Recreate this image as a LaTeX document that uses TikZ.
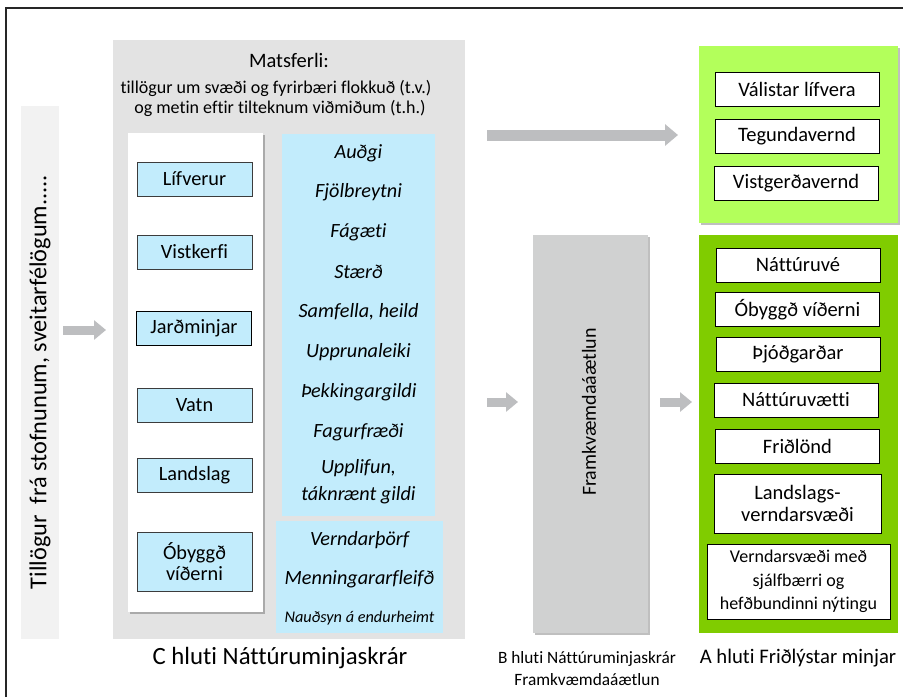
\documentclass[tikz,border=0pt]{standalone}
\usepackage{fontspec}
\setmainfont{Carlito}[Ligatures=NoCommon]
\usetikzlibrary{arrows.meta,shadows}
\definecolor{stripgray}{RGB}{242,242,242}
\definecolor{matsgray}{RGB}{227,227,227}
\definecolor{bgray}{RGB}{208,209,209}
\definecolor{critblue}{RGB}{194,236,252}
\definecolor{lightgreen}{RGB}{179,255,91}
\definecolor{darkgreen}{RGB}{128,204,0}
\definecolor{arrowgray}{RGB}{189,190,192}
\definecolor{boxedge}{RGB}{60,60,60}
\tikzset{
  panel/.style={anchor=north west, inner sep=0pt, outer sep=0pt},
  shad/.style={drop shadow={shadow xshift=1.5pt, shadow yshift=-2pt, opacity=0.25, fill=black}},
  catbox/.style={draw=boxedge, line width=0.8pt, fill=critblue, minimum width=115pt, minimum height=34pt, inner sep=2pt, align=center, font=\fontsize{20.3}{21}\selectfont},
  kbox/.style={draw=black, line width=0.8pt, fill=white, minimum width=164pt, minimum height=34pt, inner sep=2pt, align=center, font=\fontsize{20.5}{22}\selectfont},
  crit/.style={font=\fontsize{20.2}{27}\selectfont\itshape, align=center, inner sep=0pt},
  blockarrow/.style={draw=arrowgray, line width=11pt, -{Triangle[width=21pt,length=13pt]}},
  smallarrow/.style={draw=arrowgray, line width=9pt, -{Triangle[width=19pt,length=12pt]}},
  caption/.style={align=center, inner sep=0pt}
}
\begin{document}
\begin{tikzpicture}[x=1pt,y=-1pt]
\useasboundingbox (0,0) rectangle (903,697);
\fill[white] (0,0) rectangle (903,697);
% frame
\coordinate (fbl) at (6,697);
\coordinate (ftl) at (6,8);
\coordinate (ftr) at (903,8);
\draw[line width=1.5pt, black!85] (fbl) -- (ftl) -- (ftr);

% left strip
\node[panel, fill=stripgray, minimum width=38pt, minimum height=533pt] (strip) at (21,106) {};
\node[rotate=90, font=\fontsize{24.3}{26}\selectfont, inner sep=0pt] (stext) at (40,382) {Tillögur~ frá stofnunum, sveitarfélögum.....};

% main gray panel
\node[panel, fill=matsgray, minimum width=352pt, minimum height=599pt] (mats) at (113,40) {};
\node[anchor=base, inner sep=0pt, font=\fontsize{20.5}{22}\selectfont] (title1) at (289,67) {Matsferli:};
\node[anchor=base, inner sep=0pt, font=\fontsize{18}{21}\selectfont] (title2) at (276,93) {tillögur um svæði og fyrirbæri flokkuð (t.v.)};
\node[anchor=base, inner sep=0pt, font=\fontsize{18}{21}\selectfont] (title3) at (280,113) {og metin eftir tilteknum viðmiðum (t.h.)};

% white column
\node[panel, fill=white, minimum width=135pt, minimum height=479pt, shad] (col) at (128,133) {};
\node[catbox] (lif) at (194.5,179) {Lífverur};
\node[catbox] (vist) at (194.5,252) {Vistkerfi};
\node[catbox, draw=black] (jard) at (194,328.5) {Jarðminjar};
\node[catbox] (vatn) at (194.5,405.5) {Vatn};
\node[catbox] (land) at (194.5,475.5) {Landslag};
\node[catbox, minimum height=59pt] (oby) at (194.5,561.5) {Óbyggð\\víðerni};

% criteria
\node[panel, fill=critblue, minimum width=153pt, minimum height=382pt] (crit1) at (282,134) {};
\node[crit] (c1) at (358.5,153) {Auðgi};
\node[crit] (c2) at (358.5,192) {Fjölbreytni};
\node[crit] (c3) at (358.5,232) {Fágæti};
\node[crit] (c4) at (358.5,272) {Stærð};
\node[crit] (c5) at (358.5,312) {Samfella, heild};
\node[crit] (c6) at (358.5,352) {Upprunaleiki};
\node[crit] (c7) at (358.5,392) {Þekkingargildi};
\node[crit] (c8) at (358.5,432) {Fagurfræði};
\node[crit] (c9) at (358.5,482) {Upplifun,\\táknrænt gildi};
\node[panel, fill=critblue, minimum width=167pt, minimum height=112pt] (crit2) at (276,521) {};
\node[crit] (c10) at (359.5,540) {Verndarþörf};
\node[crit] (c11) at (359.5,579) {Menningararfleifð};
\node[crit, font=\fontsize{16.3}{18}\selectfont\itshape] (c12) at (359.5,618) {Nauðsyn á endurheimt};

\node[caption, font=\fontsize{24.8}{26}\selectfont] (capC) at (280,658) {C hluti Náttúruminjaskrár};

% B panel
\node[panel, fill=bgray, minimum width=115pt, minimum height=398pt, shad] (bpan) at (533,235) {};
\node[rotate=90, font=\fontsize{20}{22}\selectfont, inner sep=0pt] (btext) at (589,412) {Framkvæmdaáætlun};
\node[caption, font=\fontsize{17.3}{22}\selectfont] (capB) at (587,669) {B hluti Náttúruminjaskrár\\Framkvæmdaáætlun};

% light green panel
\node[panel, fill=lightgreen, minimum width=199pt, minimum height=177pt, shad] (lg) at (699,46) {};
\node[kbox] (k1) at (797,89) {Válistar lífvera};
\node[kbox] (k2) at (797,136) {Tegundavernd};
\node[kbox] (k3) at (796,183) {Vistgerðavernd};

% dark green panel
\node[panel, fill=darkgreen, minimum width=199pt, minimum height=398pt] (dg) at (699,235) {};
\node[kbox] (d1) at (798,265) {Náttúruvé};
\node[kbox] (d2) at (797.5,309.5) {Óbyggð víðerni};
\node[kbox] (d3) at (798,354) {Þjóðgarðar};
\node[kbox] (d4) at (796,400) {Náttúruvætti};
\node[kbox] (d5) at (797.5,446) {Friðlönd};
\node[kbox, minimum width=167pt, minimum height=59pt, font=\fontsize{20.5}{22.5}\selectfont] (d6) at (797.5,503.5) {Landslags-\\verndarsvæði};
\node[kbox, minimum width=183pt, minimum height=75pt, font=\fontsize{18}{23.5}\selectfont] (d7) at (798.5,581.5) {Verndarsvæði með\\sjálfbærri og\\hefðbundinni nýtingu};

\node[caption, font=\fontsize{20.7}{22}\selectfont] (capA) at (798,658) {A hluti Friðlýstar minjar};

% arrows
\coordinate (a1s) at (63,330);
\coordinate (a1e) at (106,330);
\draw[smallarrow] (a1s) -- (a1e);
\coordinate (a2s) at (487,135);
\coordinate (a2e) at (678,135);
\draw[blockarrow] (a2s) -- (a2e);
\coordinate (a3s) at (487,402);
\coordinate (a3e) at (518,402);
\draw[smallarrow] (a3s) -- (a3e);
\coordinate (a4s) at (660,402);
\coordinate (a4e) at (692,402);
\draw[smallarrow] (a4s) -- (a4e);
\end{tikzpicture}
\end{document}
